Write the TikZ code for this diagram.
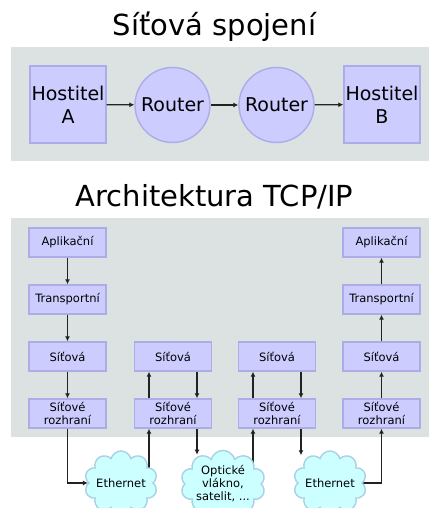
\documentclass[tikz,border=0pt]{standalone}
\usepackage{fontspec}
\setmainfont{DejaVu Sans}
\usepackage{xcolor}
\usetikzlibrary{shapes.symbols,arrows.meta,calc}

\definecolor{panelgray}{RGB}{220,226,226}
\definecolor{boxfill}{RGB}{204,204,255}
\definecolor{boxline}{RGB}{172,172,232}
\definecolor{cloudfill}{RGB}{204,255,255}
\definecolor{cloudline}{RGB}{168,210,228}
\definecolor{wire}{RGB}{34,34,34}

\pgfdeclarelayer{panel}
\pgfdeclarelayer{wires}
\pgfsetlayers{panel,wires,main}

\begin{document}
\begin{tikzpicture}[x=1pt,y=-1pt,
    layer/.style={rectangle,fill=boxfill,draw=boxline,line width=1.4pt,
      minimum width=77pt,minimum height=29pt,inner sep=0pt,align=center,
      font=\fontsize{11.5}{13}\selectfont},
    hostbox/.style={rectangle,fill=boxfill,draw=boxline,line width=1.4pt,
      minimum width=76pt,minimum height=77pt,inner sep=0pt,align=center,
      font=\fontsize{19}{23}\selectfont},
    routernode/.style={circle,fill=boxfill,draw=boxline,line width=1.4pt,
      minimum size=75pt,inner sep=0pt,font=\fontsize{19}{23}\selectfont},
    net/.style={cloud,cloud puffs=10,cloud ignores aspect,fill=cloudfill,
      draw=cloudline,line width=1.4pt,minimum width=73pt,minimum height=64pt,
      inner sep=0pt,align=center,font=\fontsize{11.5}{13}\selectfont},
    link/.style={draw=wire,line width=1.3pt,-{Latex[length=5pt,width=5pt]}},
    plain/.style={draw=wire,line width=1.3pt},
    heading/.style={anchor=base,font=\fontsize{29}{34}\selectfont}]
    \useasboundingbox (0,0) rectangle (429,508);

    % panels
    \begin{pgfonlayer}{panel}
        \fill[panelgray] (11,47) rectangle (429,161);
        \fill[panelgray] (11,218) rectangle (429,437);
    \end{pgfonlayer}

    % upper part
    \node[heading] (t1) at (214.5,36) {Síťová spojení};
    \node[hostbox] (ha) at (68,104.5) {Hostitel\\A};
    \node[routernode] (ra) at (172.5,105) {Router};
    \node[routernode] (rb) at (276.5,105) {Router};
    \node[hostbox] (hb) at (382,104.5) {Hostitel\\B};
    \draw[link] (ha) -- (ra);
    \draw[link] (ra) -- (rb);
    \draw[link] (rb) -- (hb);

    % lower part
    \node[heading] (t2) at (214.5,206) {Architektura TCP/IP};

    \node[layer] (ap1) at (67.5,242.5) {Aplikační};
    \node[layer] (tr1) at (67.5,299.5) {Transportní};
    \node[layer] (si1) at (67.5,356.5) {Síťová};
    \node[layer] (rz1) at (67.5,413.5) {Síťové\\rozhraní};

    \node[layer] (si2) at (173,356.5) {Síťová};
    \node[layer] (rz2) at (173,413.5) {Síťové\\rozhraní};

    \node[layer] (si3) at (277,356.5) {Síťová};
    \node[layer] (rz3) at (277,413.5) {Síťové\\rozhraní};

    \node[layer] (ap4) at (381.5,242.5) {Aplikační};
    \node[layer] (tr4) at (381.5,299.5) {Transportní};
    \node[layer] (si4) at (381.5,356.5) {Síťová};
    \node[layer] (rz4) at (381.5,413.5) {Síťové\\rozhraní};

    \node[net] (eth1) at (121,483) {Ethernet};
    \node[net] (opt) at (223,484) {Optické\\vlákno,\\satelit, ...};
    \node[net] (eth2) at (330,483) {Ethernet};

    % down the sender's stack
    \draw[link] (ap1) -- (tr1);
    \draw[link] (tr1) -- (si1);
    \draw[link] (si1) -- (rz1);
    \draw[link] (rz1.south) |- (eth1.west);

    % first router
    \draw[link] ([xshift=-24pt]rz2.north) -- ([xshift=-24pt]si2.south);
    \draw[link] ([xshift=24pt]si2.south) -- ([xshift=24pt]rz2.north);
    \draw[link] ([xshift=24pt]rz2.south) -- ($(rz2.south |- opt.north)+(24,5)$);

    % second router
    \draw[link] ([xshift=-24pt]rz3.north) -- ([xshift=-24pt]si3.south);
    \draw[link] ([xshift=24pt]si3.south) -- ([xshift=24pt]rz3.north);
    \draw[link] ([xshift=24pt]rz3.south) -- ($(rz3.south |- eth2.north)+(24,5)$);

    % up the receiver's stack
    \draw[link] (rz4) -- (si4);
    \draw[link] (si4) -- (tr4);
    \draw[link] (tr4) -- (ap4);

    % wires leaving the clouds
    \begin{pgfonlayer}{wires}
        \draw[link] ($(rz2.south |- eth1.center)+(-24,0)$) -- ([xshift=-24pt]rz2.south);
        \draw[link] ($(rz3.south |- opt.center)+(-24,0)$) -- ([xshift=-24pt]rz3.south);
        \draw[link] (eth2.center) -| (rz4.south);
    \end{pgfonlayer}
\end{tikzpicture}
\end{document}
